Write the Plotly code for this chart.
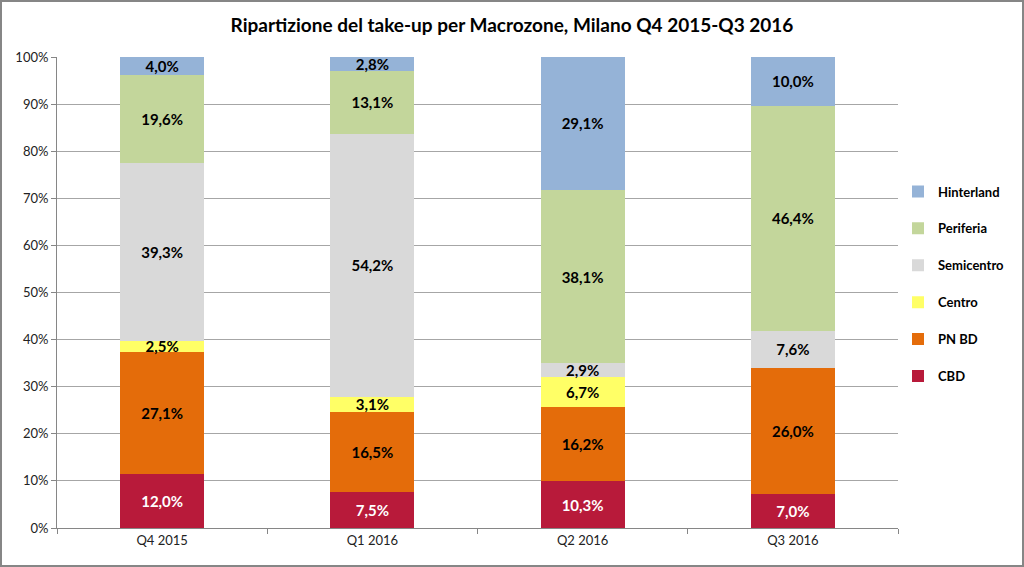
import plotly.graph_objects as go

categories = ["Q4 2015", "Q1 2016", "Q2 2016", "Q3 2016"]
series_names = ["CBD", "PN BD", "Centro", "Semicentro", "Periferia", "Hinterland"]
cbd = [12.0, 7.5, 10.3, 7.0]
pn_bd = [27.1, 16.5, 16.2, 26.0]
centro = [2.5, 3.1, 6.7, 0.0]
semicentro = [39.3, 54.2, 2.9, 7.6]
periferia = [19.6, 13.1, 38.1, 46.4]
hinterland = [4.0, 2.8, 29.1, 10.0]

colors = ["#B81A3A", "#E46C0A", "#FFFF66", "#D9D9D9", "#C3D69B", "#95B3D7"]
text_colors = ["white", "black", "black", "black", "black", "black"]
all_values = [cbd, pn_bd, centro, semicentro, periferia, hinterland]

FONT = "Lato, Open Sans, sans-serif"

def fmt(v):
    return "" if v == 0 else f"{v:.1f}".replace(".", ",") + "%"

fig = go.Figure()
for i, (name, vals) in enumerate(zip(series_names, all_values)):
    fig.add_trace(go.Bar(
        name=name, x=categories, y=vals,
        marker=dict(color=colors[i], line=dict(width=0)),
        text=[fmt(v) for v in vals],
        textposition="inside", insidetextanchor="middle",
        textangle=0, constraintext="none", cliponaxis=False,
        textfont=dict(family=FONT, size=15, color=text_colors[i], weight="bold"),
        legendgroup=name, legendrank=len(series_names) - i,
        hoverinfo="skip",
    ))

fig.update_layout(
    barmode="stack", barnorm="percent", bargap=0.6,
    width=1024, height=567,
    margin=dict(l=57, r=126, t=57, b=39, autoexpand=False),
    paper_bgcolor="white", plot_bgcolor="white",
    font=dict(family=FONT, size=13, color="black"),
    title=dict(text="<b>Ripartizione del take-up per Macrozone, Milano Q4 2015-Q3 2016</b>",
               x=0.5, xanchor="center", y=0.955, yanchor="middle",
               font=dict(family=FONT, size=19, color="black")),
    legend=dict(x=1.0, xanchor="left", y=0.518, yanchor="middle",
                traceorder="grouped", tracegroupgap=17,
                font=dict(family=FONT, size=13, weight="bold"),
                itemwidth=30, bgcolor="rgba(0,0,0,0)"),
    showlegend=True,
)
fig.update_yaxes(range=[0, 100], dtick=10, ticksuffix="%", showgrid=True,
                 gridcolor="#A6A6A6", gridwidth=1, showline=True, linecolor="#868686",
                 ticks="outside", ticklen=5, tickcolor="#868686", zeroline=False,
                 tickfont=dict(size=13, color="#222"))
fig.update_xaxes(showline=True, linecolor="#868686", ticks="outside", ticklen=5,
                 tickcolor="#868686", tickson="boundaries",
                 tickfont=dict(size=13, color="#222"))
fig.add_shape(type="rect", xref="paper", yref="paper",
              x0=-56/841, x1=1+125/841, y0=-38/471, y1=1+56/471,
              line=dict(color="#868686", width=2), fillcolor="rgba(0,0,0,0)")

fig.write_html("out.html", config={"displayModeBar": False, "responsive": False})

with open("out.html", encoding="utf-8") as f:
    html = f.read()
html = html.replace("<head>",
                    "<head><style>html,body{margin:0;padding:0;overflow:hidden;}</style>", 1)
with open("out.html", "w", encoding="utf-8") as f:
    f.write(html)
